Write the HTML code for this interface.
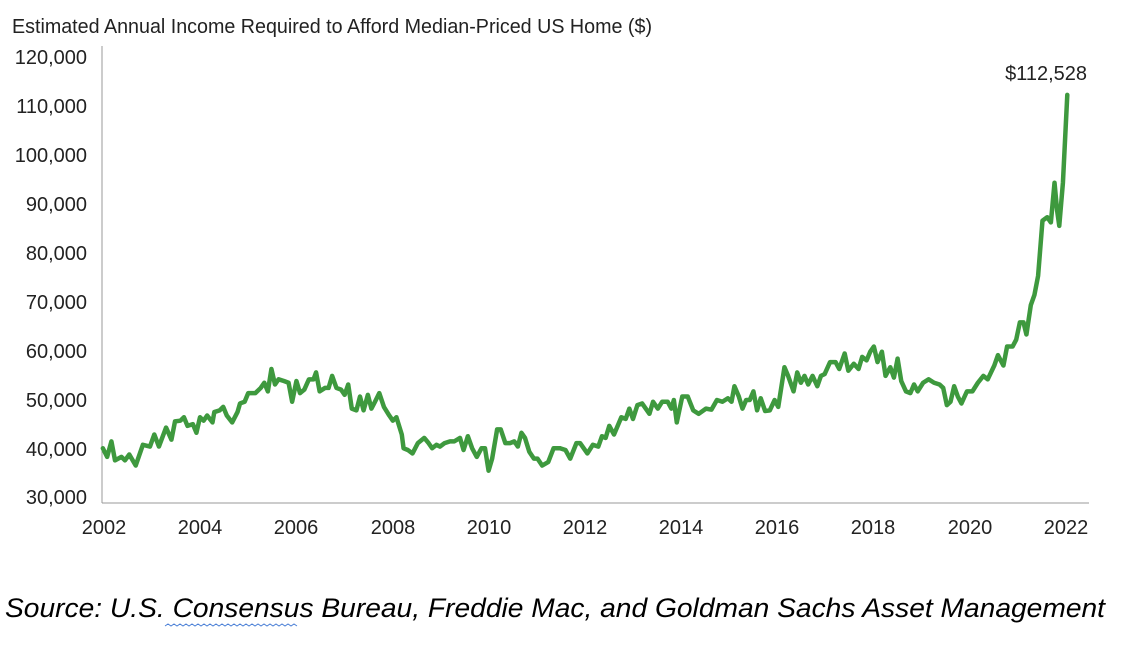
<!DOCTYPE html>
<html><head><meta charset="utf-8"><style>
html,body{margin:0;padding:0;background:#fff;width:1132px;height:648px;overflow:hidden}
svg{display:block}
</style></head><body>
<svg width="1132" height="648" viewBox="0 0 1132 648" xmlns="http://www.w3.org/2000/svg">
<g font-family="'Liberation Sans Narrow','Liberation Sans',sans-serif" fill="#222">
<text x="12" y="33" font-size="20" textLength="640" lengthAdjust="spacingAndGlyphs">Estimated Annual Income Required to Afford Median-Priced US Home ($)</text>
<g font-size="20" text-anchor="end">
<text x="87" y="64">120,000</text>
<text x="87" y="113">110,000</text>
<text x="87" y="162">100,000</text>
<text x="87" y="211">90,000</text>
<text x="87" y="260">80,000</text>
<text x="87" y="309">70,000</text>
<text x="87" y="358">60,000</text>
<text x="87" y="407">50,000</text>
<text x="87" y="456">40,000</text>
<text x="87" y="504">30,000</text>
</g>
<g font-size="20" text-anchor="middle">
<text x="104" y="534">2002</text>
<text x="200" y="534">2004</text>
<text x="296" y="534">2006</text>
<text x="393" y="534">2008</text>
<text x="489" y="534">2010</text>
<text x="585" y="534">2012</text>
<text x="681" y="534">2014</text>
<text x="777" y="534">2016</text>
<text x="873" y="534">2018</text>
<text x="970" y="534">2020</text>
<text x="1066" y="534">2022</text>
</g>
<text x="1087" y="80" font-size="20" text-anchor="end">$112,528</text>
</g>
<line x1="102" y1="46" x2="102" y2="503" stroke="#999" stroke-width="1"/>
<line x1="102" y1="503" x2="1089" y2="503" stroke="#999" stroke-width="1"/>
<g fill="none" stroke="#3e993e" stroke-width="4.5" stroke-linejoin="round" stroke-linecap="round">
<g transform="scale(0.35714,0.34483)">
<polyline vector-effect="non-scaling-stroke" points="288,1300 300,1325 312,1280 322,1335 340,1325 350,1335 362,1318 380,1350 400,1290 420,1295 432,1260 445,1295 465,1240 480,1275 490,1222 505,1220 515,1210 525,1235 540,1230 550,1255 560,1210 570,1220 580,1205 595,1225 600,1195 615,1190 625,1180 635,1205 650,1225 665,1195 672,1170 685,1165 695,1140 715,1140 730,1125 740,1110 750,1135 760,1070 770,1115 780,1100 795,1105 808,1110 818,1165 830,1105 840,1140 852,1130 865,1100 878,1100 885,1080 895,1135 910,1125 920,1125 930,1090 942,1125 955,1130 965,1145 975,1115 985,1185 998,1190 1008,1150 1018,1190 1030,1145 1040,1185 1050,1165 1062,1140 1075,1180 1090,1205 1100,1220 1110,1210 1125,1260 1130,1300 1142,1305 1155,1315 1170,1285 1188,1270 1200,1285 1210,1300 1222,1290 1232,1295 1245,1285 1260,1280 1272,1280 1288,1270 1298,1305 1310,1265 1322,1300 1335,1325 1348,1300 1358,1300 1368,1365 1378,1330 1392,1245 1402,1245 1415,1285 1428,1285 1440,1280 1450,1295 1460,1255 1470,1270 1482,1310 1495,1330 1505,1330 1518,1350 1535,1340 1550,1300 1568,1300"/>
</g>
<g transform="translate(560,0) scale(0.36496,0.34483)">
<polyline vector-effect="non-scaling-stroke" points="0,1300 15,1305 28,1330 45,1285 55,1285 75,1315 90,1290 105,1295 115,1265 125,1270 135,1235 148,1260 168,1210 180,1215 190,1185 200,1215 212,1175 225,1170 245,1200 255,1165 268,1185 280,1165 295,1165 305,1185 312,1160 320,1225 335,1150 350,1150 365,1190 380,1200 400,1185 415,1188 430,1160 445,1165 460,1155 470,1165 478,1120 490,1150 500,1185 510,1160 520,1160 530,1135 540,1190 550,1155 562,1192 575,1190 588,1160 598,1180 615,1065 625,1090 640,1135 650,1080 660,1110 670,1090 680,1115 692,1090 705,1120 715,1090 725,1085 740,1050 755,1050 765,1070 780,1025 790,1075 805,1055 818,1070 828,1035 840,1045 850,1020 860,1005 870,1050 882,1020 892,1090 905,1065 915,1095 925,1040 935,1105 948,1135 960,1140 970,1115 980,1135 995,1110 1010,1100 1025,1110 1040,1115 1050,1125 1060,1175 1070,1165 1080,1120 1090,1150 1100,1170 1115,1135 1130,1135 1145,1110 1160,1090 1172,1100 1190,1060 1200,1030 1215,1060 1225,1005 1240,1005 1250,985 1260,935 1270,935 1278,970 1290,885 1300,855 1310,800 1322,640 1335,630 1345,645 1355,530 1362,610 1368,655 1378,530 1390,275"/>
</g>
</g>
<text x="5" y="617" font-family="'Liberation Sans',sans-serif" font-style="italic" font-size="27" fill="#000" textLength="1100" lengthAdjust="spacingAndGlyphs">Source: U.S. Consensus Bureau, Freddie Mac, and Goldman Sachs Asset Management</text>
<path d="M165 626 l3 -2 l3 2 l3 -2 l3 2 l3 -2 l3 2 l3 -2 l3 2 l3 -2 l3 2 l3 -2 l3 2 l3 -2 l3 2 l3 -2 l3 2 l3 -2 l3 2 l3 -2 l3 2 l3 -2 l3 2 l3 -2 l3 2 l3 -2 l3 2 l3 -2 l3 2 l3 -2 l3 2 l3 -2 l3 2 l3 -2 l3 2 l3 -2 l3 2 l3 -2 l3 2 l3 -2 l3 2 l3 -2 l3 2 l3 -2 l3 2" fill="none" stroke="#4a7fd6" stroke-width="1"/>
</svg>
</body></html>
